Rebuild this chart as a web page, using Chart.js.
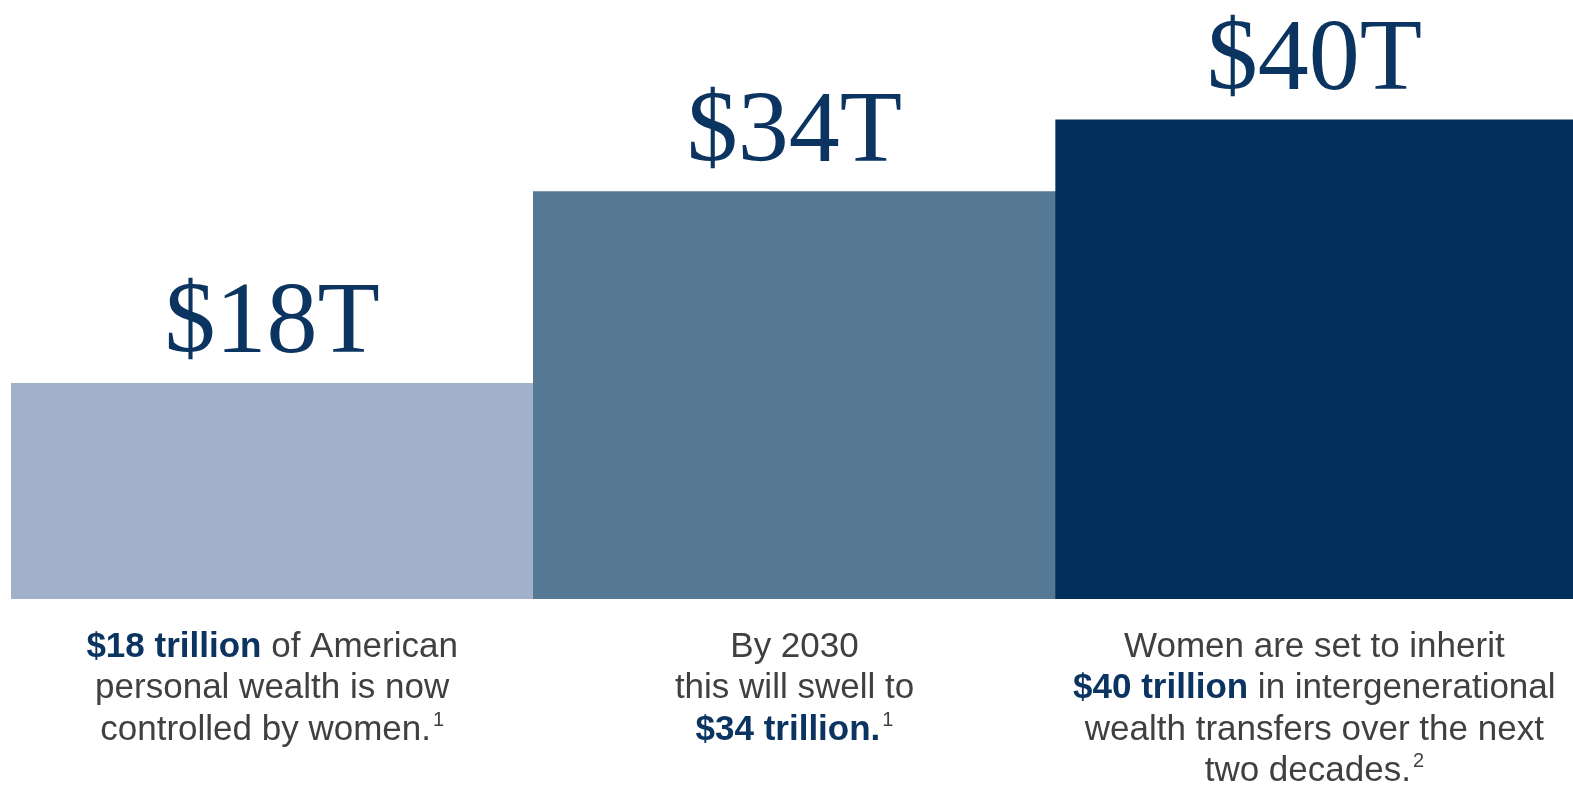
<!DOCTYPE html>
<html>
<head>
<meta charset="utf-8">
<title>Women and wealth</title>
<script src="https://cdn.jsdelivr.net/npm/chart.js@4.4.1/dist/chart.umd.min.js"></script>
<style>
  html, body { margin: 0; padding: 0; background: #ffffff; overflow: hidden; }
  #wealthChart { display: block; }
</style>
</head>
<body>
<!-- canvas is a little wider than the window so the last bar runs off the right edge -->
<canvas id="wealthChart" width="1578" height="785"></canvas>
<script>
// Chart data
const categories = ['Controlled today', 'By 2030', 'Inheritance'];
const wealthTrillions = [18, 34, 40];
const valueLabels = ['$18T', '$34T', '$40T'];
const barColors = ['#a3b0c9', '#557894', '#00305a'];

// Caption lines under each bar: [text, style] runs ('bold' = navy bold, 'sup' = footnote)
const captions = [
  [
    [['$18 trillion', 'bold'], [' of American', '']],
    [['personal wealth is now', '']],
    [['controlled by women.', ''], ['1', 'sup']]
  ],
  [
    [['By 2030', '']],
    [['this will swell to', '']],
    [['$34 trillion.', 'bold'], ['1', 'sup']]
  ],
  [
    [['Women are set to inherit', '']],
    [['$40 trillion', 'bold'], [' in intergenerational', '']],
    [['wealth transfers over the next', '']],
    [['two decades.', ''], ['2', 'sup']]
  ]
];

const NAVY = '#0b3461';
const GREY = '#404040';
const VISIBLE_WIDTH = 1573;

function runFont(style) {
  if (style === 'bold') return 'bold 35px "Liberation Sans", Arial, sans-serif';
  if (style === 'sup') return '20px "Liberation Sans", Arial, sans-serif';
  return '35px "Liberation Sans", Arial, sans-serif';
}

// centre of the visible part of a bar
function visibleCenter(bar) {
  const left = bar.x - bar.width / 2;
  const right = Math.min(bar.x + bar.width / 2, VISIBLE_WIDTH);
  return (left + right) / 2;
}

// Big serif values above each bar
const valueLabelPlugin = {
  id: 'valueLabels',
  afterDatasetsDraw(chart) {
    const ctx = chart.ctx;
    const meta = chart.getDatasetMeta(0);
    ctx.save();
    ctx.fillStyle = NAVY;
    ctx.font = '102px "Liberation Serif", "Times New Roman", serif';
    ctx.textAlign = 'center';
    ctx.textBaseline = 'alphabetic';
    meta.data.forEach((bar, i) => {
      ctx.fillText(valueLabels[i], visibleCenter(bar), bar.y - 31);
    });
    ctx.restore();
  }
};

// Multi-line captions below the bars, with bold navy runs
const captionPlugin = {
  id: 'captions',
  afterDraw(chart) {
    const ctx = chart.ctx;
    const meta = chart.getDatasetMeta(0);
    const firstBaseline = chart.chartArea.bottom + 58;
    const lineHeight = 41.3;
    ctx.save();
    ctx.textAlign = 'left';
    ctx.textBaseline = 'alphabetic';
    meta.data.forEach((bar, i) => {
      const cx = visibleCenter(bar);
      captions[i].forEach((line, li) => {
        let width = 0;
        line.forEach(([text, style]) => {
          ctx.font = runFont(style);
          width += ctx.measureText(text).width + (style === 'sup' ? 2 : 0);
        });
        let x = cx - width / 2;
        const y = firstBaseline + li * lineHeight;
        line.forEach(([text, style]) => {
          ctx.font = runFont(style);
          ctx.fillStyle = style === 'bold' ? NAVY : GREY;
          if (style === 'sup') {
            x += 2;
            ctx.fillText(text, x, y - 14);
          } else {
            ctx.fillText(text, x, y);
          }
          x += ctx.measureText(text).width;
        });
      });
    });
    ctx.restore();
  }
};

const chartConfig = {
  type: 'bar',
  data: {
    labels: categories,
    datasets: [
      {
        label: 'Wealth (trillions USD)',
        data: wealthTrillions,
        backgroundColor: barColors,
        borderWidth: 0,
        barPercentage: 1.0,
        categoryPercentage: 1.0
      }
    ]
  },
  options: {
    responsive: false,
    animation: false,
    devicePixelRatio: 1,
    layout: {
      padding: { left: 11, right: 0, top: 0, bottom: 186 }
    },
    plugins: {
      legend: { display: false },
      tooltip: { enabled: false }
    },
    scales: {
      x: { display: false },
      y: { display: false, min: 0, max: 50 }
    }
  },
  plugins: [valueLabelPlugin, captionPlugin]
};

new Chart(document.getElementById('wealthChart'), chartConfig);
</script>
</body>
</html>
